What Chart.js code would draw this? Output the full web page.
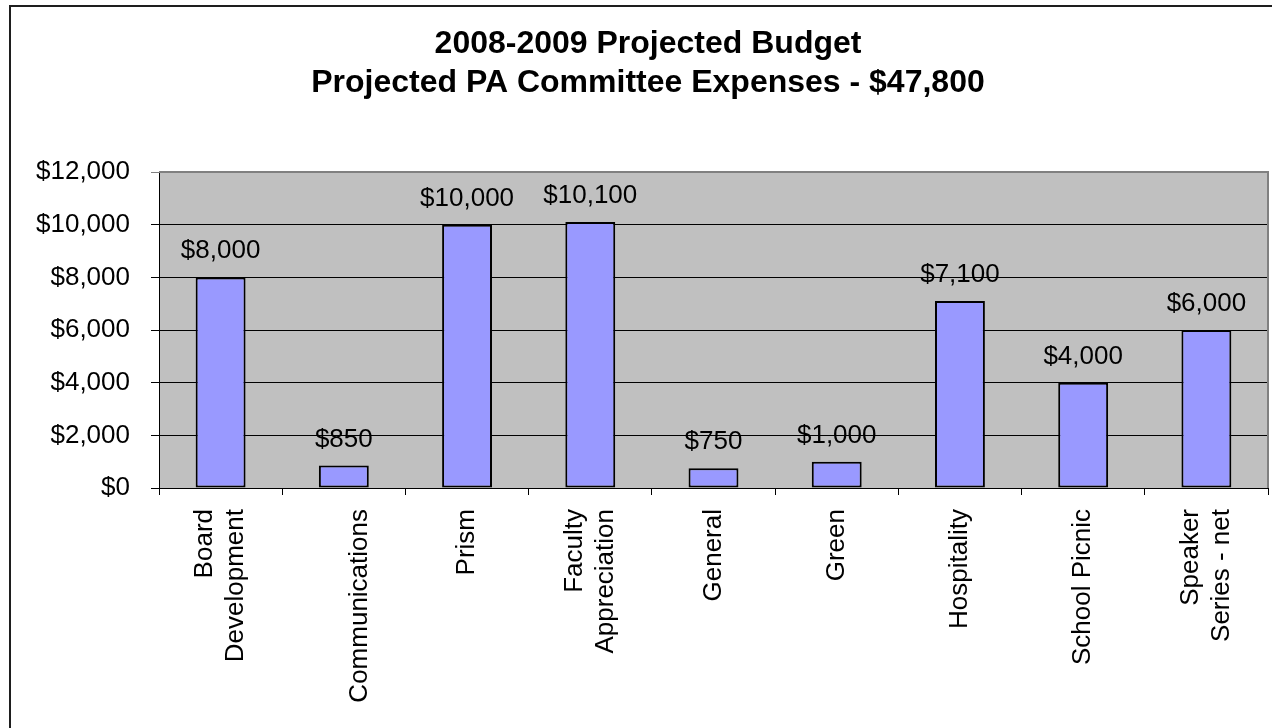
<!DOCTYPE html>
<html>
<head>
<meta charset="utf-8">
<title>2008-2009 Projected Budget</title>
<script src="https://cdn.jsdelivr.net/npm/chart.js@4/dist/chart.umd.min.js"></script>
<style>
    html, body { margin: 0; padding: 0; background: #fff; overflow: hidden; }
    #wrap { position: relative; width: 1272px; height: 728px; }
    #frame {
        position: absolute; left: 9px; top: 5px; width: 1300px; height: 800px;
        border: 2px solid #1e1e1e; pointer-events: none;
    }
</style>
</head>
<body>
<div id="wrap">
    <canvas id="budget-chart"></canvas>
    <div id="frame"></div>
</div>
<script>
// --- datos del presupuesto ---
const titleLines = ['2008-2009 Projected Budget', 'Projected PA Committee Expenses - $47,800'];
const categories = [
    ['Board', 'Development'],
    ['', 'Communications'],
    'Prism',
    ['Faculty', 'Appreciation'],
    'General',
    'Green',
    'Hospitality',
    'School Picnic',
    ['Speaker', 'Series - net']
];
const expenses = [8000, 850, 10000, 10100, 750, 1000, 7100, 4000, 6000];
const yTicks = [0, 2000, 4000, 6000, 8000, 10000, 12000];

const FONT = "'Liberation Sans', Arial, sans-serif";
const money = v => '$' + Number(v).toLocaleString('en-US');

// fondo gris del area de trazado + marco superior/derecho
const plotBackground = {
    id: 'plotBackground',
    beforeDraw(chart) {
        const { ctx, chartArea: a } = chart;
        ctx.save();
        ctx.fillStyle = '#C0C0C0';
        ctx.fillRect(a.left, a.top, a.right - a.left, a.bottom - a.top);
        ctx.restore();
    },
    afterDraw(chart) {
        const { ctx, chartArea: a } = chart;
        ctx.save();
        ctx.strokeStyle = '#808080';
        ctx.lineWidth = 2;
        ctx.beginPath();
        ctx.moveTo(a.left, a.top);
        ctx.lineTo(a.right, a.top);
        ctx.lineTo(a.right, a.bottom);
        ctx.stroke();
        ctx.restore();
    }
};

// etiquetas de valor encima de cada barra
const valueLabels = {
    id: 'valueLabels',
    afterDatasetsDraw(chart) {
        const { ctx } = chart;
        const meta = chart.getDatasetMeta(0);
        ctx.save();
        ctx.font = '26px ' + FONT;
        ctx.fillStyle = '#000';
        ctx.textAlign = 'center';
        ctx.textBaseline = 'alphabetic';
        meta.data.forEach((bar, i) => {
            ctx.fillText(money(expenses[i]), bar.x, bar.y - 19);
        });
        ctx.restore();
    }
};

// categorias rotadas 90 grados, lineas centradas sobre cada tick
const categoryLabels = {
    id: 'categoryLabels',
    afterDraw(chart) {
        const { ctx } = chart;
        const xs = chart.scales.x;
        const top = xs.top + 21;
        const lh = 31;
        ctx.save();
        ctx.font = '26px ' + FONT;
        ctx.fillStyle = '#000';
        ctx.textAlign = 'right';
        ctx.textBaseline = 'middle';
        categories.forEach((label, i) => {
            const lines = Array.isArray(label) ? label : [label];
            const cx = xs.getPixelForTick(i);
            lines.forEach((line, j) => {
                const x = cx + (j - (lines.length - 1) / 2) * lh;
                ctx.save();
                ctx.translate(x, top);
                ctx.rotate(-Math.PI / 2);
                ctx.fillText(line, 0, 0);
                ctx.restore();
            });
        });
        ctx.restore();
    }
};

const ctx = document.getElementById('budget-chart');
new Chart(ctx, {
    type: 'bar',
    data: {
        labels: categories,
        datasets: [{
            data: expenses,
            backgroundColor: '#9999FF',
            borderColor: '#000',
            borderWidth: 2,
            borderSkipped: false,
            barPercentage: 0.405,
            categoryPercentage: 1
        }]
    },
    options: {
        responsive: true,
        maintainAspectRatio: false,
        animation: false,
        events: [],
        layout: { padding: { left: 28, right: 4, top: 0, bottom: 0 } },
        plugins: {
            legend: { display: false },
            tooltip: { enabled: false },
            title: {
                display: true,
                text: titleLines,
                color: '#000',
                font: { family: FONT, size: 32, weight: 'bold', lineHeight: 1.22 },
                padding: { top: 25, bottom: 69 }
            }
        },
        scales: {
            x: {
                ticks: { display: false },
                grid: { offset: true, drawOnChartArea: false, drawTicks: true, tickLength: 7, color: '#000' },
                border: { color: '#000', width: 1 },
                afterFit(scale) { scale.height = 240; }
            },
            y: {
                min: 0,
                max: 12000,
                afterBuildTicks(scale) { scale.ticks = yTicks.map(v => ({ value: v })); },
                ticks: {
                    callback: v => money(v),
                    color: '#000',
                    font: { family: FONT, size: 26 },
                    padding: 21
                },
                grid: {
                    color: c => (c.tick && c.tick.value === 12000) ? '#808080' : '#000',
                    lineWidth: 1,
                    tickLength: 8
                },
                border: { color: '#000', width: 1 },
                afterFit(scale) { scale.width = 131; }
            }
        }
    },
    plugins: [plotBackground, valueLabels, categoryLabels]
});
</script>
</body>
</html>
